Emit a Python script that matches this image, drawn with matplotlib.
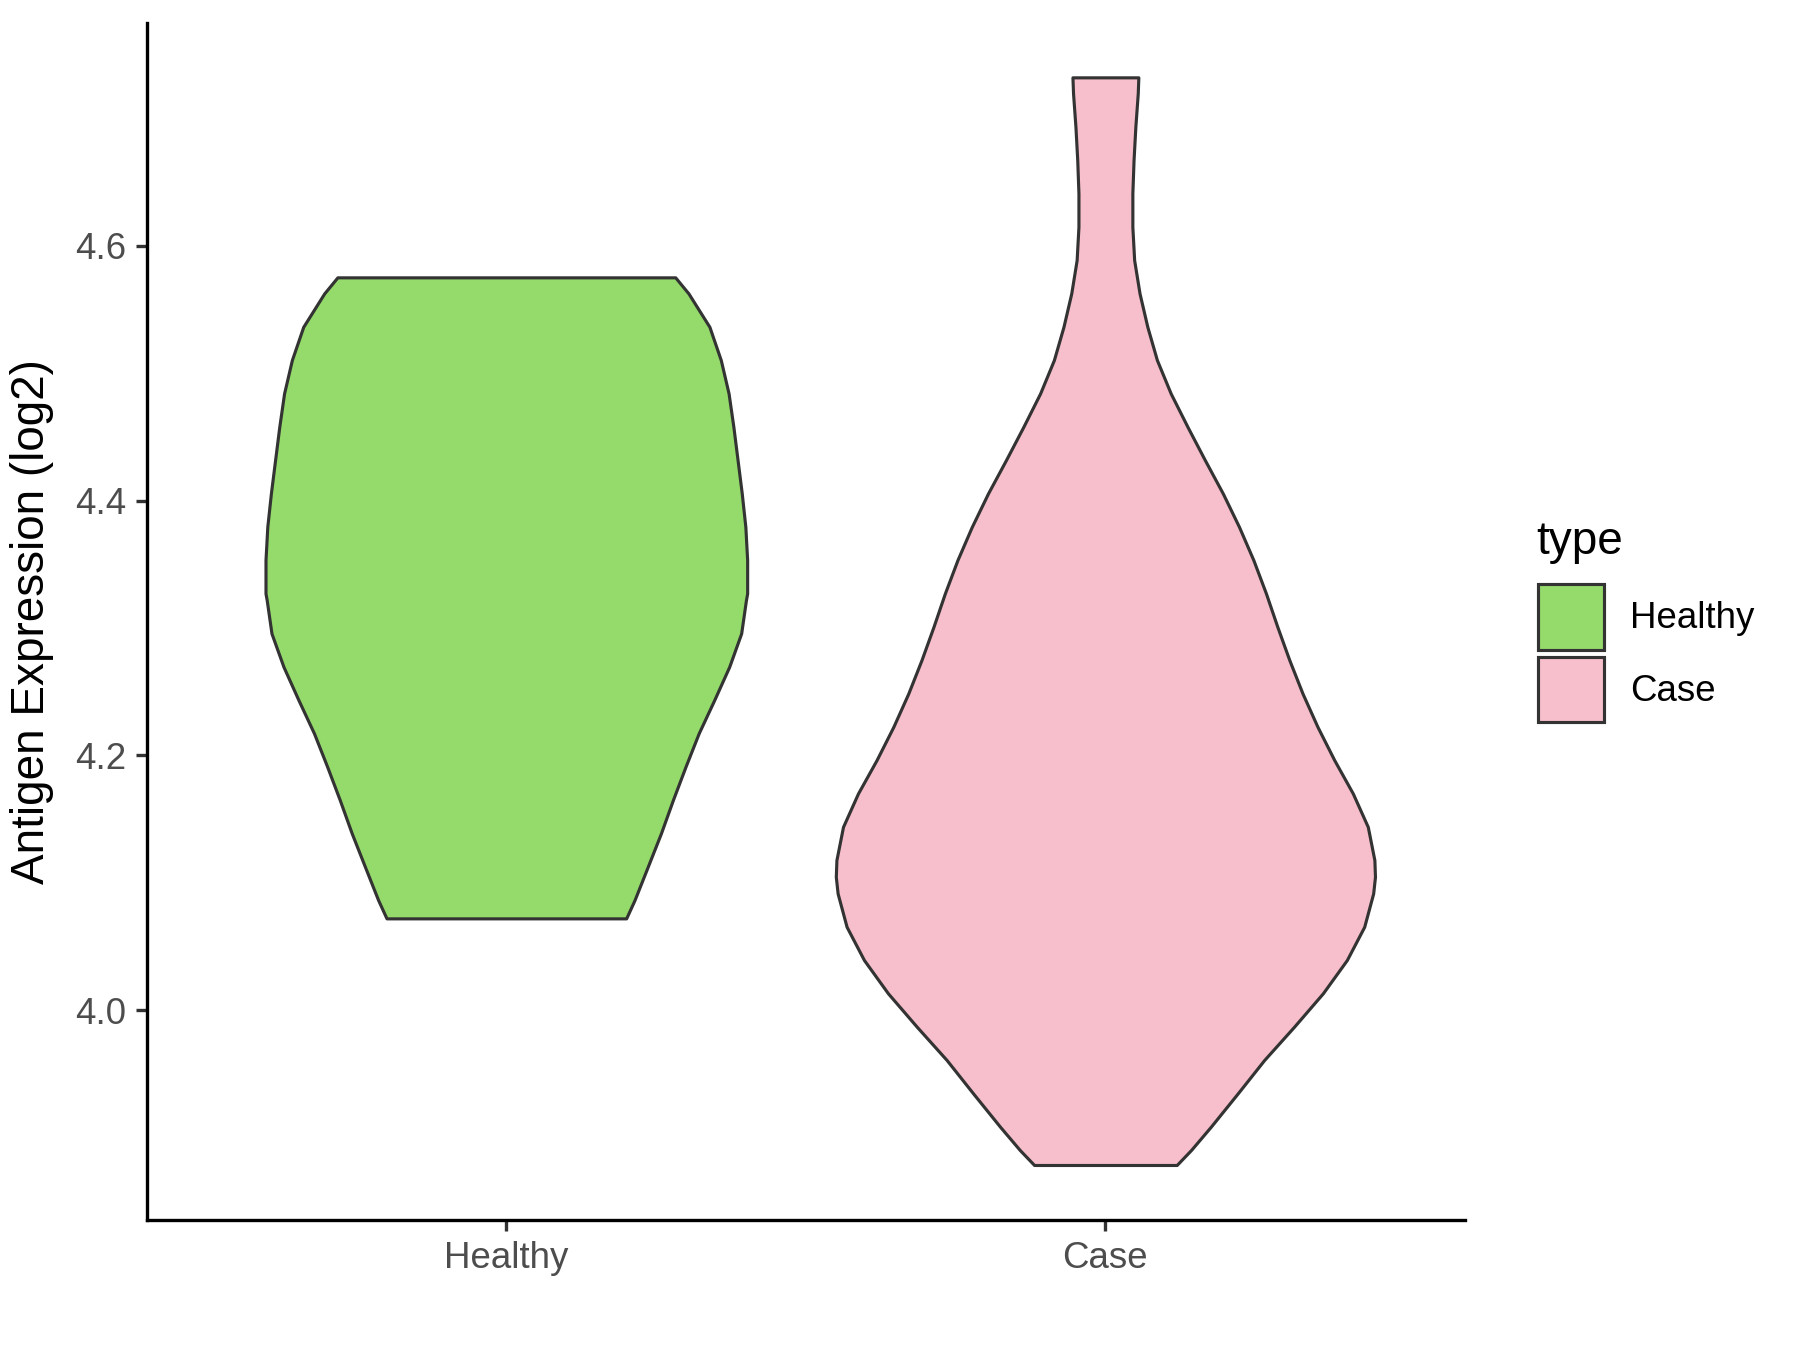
import numpy as np
import matplotlib
matplotlib.use("Agg")
import matplotlib.pyplot as plt

plt.rcParams['font.family'] = ['Liberation Sans', 'DejaVu Sans']

groups = ["Healthy", "Case"]
colors = ["#95DB6B", "#F7BFCB"]

# violin outline: expression level vs half width (x units)
healthy_y = [4.5753, 4.5627, 4.5365, 4.5104, 4.4842, 4.4580, 4.4319, 4.4057,
             4.3795, 4.3534, 4.3272, 4.3220, 4.2958, 4.2696, 4.2435, 4.2173,
             4.1911, 4.1650, 4.1388, 4.1126, 4.0865, 4.0721]
healthy_w = [0.282, 0.304, 0.339, 0.358, 0.371, 0.379, 0.386, 0.393,
             0.399, 0.402, 0.402, 0.400, 0.392, 0.372, 0.347, 0.321,
             0.299, 0.278, 0.258, 0.236, 0.214, 0.200]

case_y = [4.7323, 4.7197, 4.6935, 4.6674, 4.6412, 4.6150, 4.5889, 4.5627,
          4.5365, 4.5104, 4.4842, 4.4580, 4.4319, 4.4057, 4.3795, 4.3534,
          4.3272, 4.3010, 4.2749, 4.2487, 4.2225, 4.1964, 4.1702, 4.1440,
          4.1179, 4.1048, 4.0917, 4.0655, 4.0394, 4.0133, 3.9871, 3.9609,
          3.9348, 3.9086, 3.8903, 3.8785]
case_w = [0.055, 0.054, 0.050, 0.047, 0.045, 0.045, 0.048, 0.057,
          0.070, 0.086, 0.109, 0.137, 0.166, 0.196, 0.223, 0.247,
          0.268, 0.287, 0.307, 0.329, 0.354, 0.382, 0.413, 0.438,
          0.449, 0.450, 0.447, 0.432, 0.403, 0.363, 0.315, 0.265,
          0.221, 0.176, 0.143, 0.119]

profiles = [(healthy_y, healthy_w), (case_y, case_w)]

fig = plt.figure(figsize=(6, 4.5), dpi=300)
ax = fig.add_axes([0.0816, 0.096, 0.7322, 0.887])

handles = []
for i, (g, (ys, ws)) in enumerate(zip(groups, profiles)):
    ys = np.array(ys)
    ws = np.array(ws)
    h = ax.fill_betweenx(ys, i + 1 - ws, i + 1 + ws, facecolor=colors[i],
                         edgecolor="#333333", linewidth=0.75, label=g,
                         joinstyle="round")
    handles.append(h)

ax.set_xlim(0.4, 2.6)
ax.set_ylim(3.835, 4.775)
ax.set_xticks([1, 2])
ax.set_xticklabels(groups)
ax.set_yticks([4.0, 4.2, 4.4, 4.6])
ax.set_yticklabels(["4.0", "4.2", "4.4", "4.6"])

for s in ["top", "right"]:
    ax.spines[s].set_visible(False)
for s in ["left", "bottom"]:
    ax.spines[s].set_linewidth(0.8)
    ax.spines[s].set_color("black")
ax.tick_params(length=2.75, width=0.8, color="#333333", labelcolor="#4D4D4D",
               labelsize=8.8, pad=2.2)

ax.set_ylabel("Antigen Expression (log2)", fontsize=11, color="black", labelpad=5)

# legend: title as separate text so the gap above the keys matches
fig.text(0.8533, 0.590, "type", fontsize=11, ha="left", va="baseline")
leg = fig.legend(handles=handles, loc="upper left",
                 bbox_to_anchor=(0.8546, 0.5672), frameon=False, fontsize=8.8,
                 handlelength=1.78, handleheight=2.36,
                 labelspacing=0.2, handletextpad=0.72, borderpad=0,
                 borderaxespad=0)

fig.savefig("out.png", dpi=300)
